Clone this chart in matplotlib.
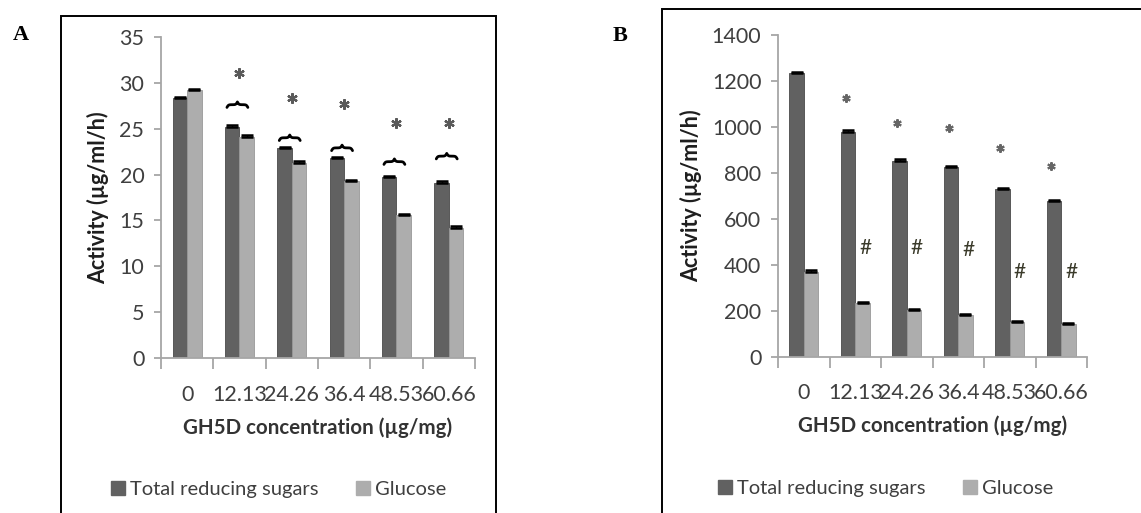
"""
Two-panel grouped bar chart: GH5D effect on total reducing sugars and glucose.
"""
import numpy as np
import matplotlib.pyplot as plt
from matplotlib.patches import Rectangle
from matplotlib.lines import Line2D

plt.rcParams['font.family'] = ['Lato', 'DejaVu Sans']

conc_labels = ["0", "12.13", "24.26", "36.4", "48.53", "60.66"]

# panel A
trs_a = [28.3, 25.2, 22.9, 21.8, 19.7, 19.1]
glc_a = [29.2, 24.1, 21.3, 19.3, 15.6, 14.2]
err_a = [0.15, 0.15, 0.15, 0.15, 0.15, 0.15]
star_a = [None, 31.1, 28.3, 27.7, 25.6, 25.6]
brace_a = [None, 27.6, 24.0, 22.9, 21.4, 22.0]

# panel B
trs_b = [1233, 979, 853, 824, 730, 676]
glc_b = [370, 232, 203, 180, 149, 142]
err_b = [6, 6, 6, 6, 6, 6]
star_b = [None, 1124, 1016, 994, 910, 831]
hash_b = [None, 471, 471, 464, 370, 370]

DARK = "#616161"
LIGHT = "#adadad"
TXT = "#3f3f3f"
AXC = "#a6a6a6"
W = 0.28

fig = plt.figure(figsize=(11.41, 5.13), dpi=100)

# outer frames of the two panels
fig.patches.append(Rectangle((0.0535, -0.1), 0.3812, 1.0688, transform=fig.transFigure,
                             fill=False, edgecolor="black", linewidth=1.4, clip_on=False))
fig.patches.append(Rectangle((0.5802, -0.1), 0.6, 1.0825, transform=fig.transFigure,
                             fill=False, edgecolor="black", linewidth=1.4, clip_on=False))


def style_axes(ax, ymax, ystep):
    x = np.arange(len(conc_labels))
    ax.set_xlim(-0.5, len(conc_labels) - 0.5)
    ax.set_ylim(0, ymax)
    ax.set_yticks(np.arange(0, ymax + 1e-9, ystep))
    ax.set_xticks(x)
    ax.set_xticklabels(conc_labels)
    ax.set_xticks(np.arange(-0.5, len(conc_labels)), minor=True)
    for s in ("top", "right"):
        ax.spines[s].set_visible(False)
    for s in ("left", "bottom"):
        ax.spines[s].set_color(AXC)
        ax.spines[s].set_linewidth(1.3)
    ax.tick_params(axis="x", which="major", length=0, pad=19, labelsize=15.5, labelcolor=TXT)
    ax.tick_params(axis="x", which="minor", length=8, width=1.3, color=AXC)
    ax.tick_params(axis="y", length=5, width=1.3, color=AXC, labelsize=15.5, labelcolor=TXT, pad=7)
    ax.set_ylabel("Activity (µg/ml/h)", fontsize=15.5, fontweight="bold", color="#1e1e1e", labelpad=7)
    ax.set_xlabel("GH5D concentration (µg/mg)", fontsize=14.8, fontweight="bold", color="#333333",
                  labelpad=9)


def draw_bars(ax, trs, glc, err, cap):
    x = np.arange(len(trs))
    up = [np.zeros(len(err)), err]
    ax.bar(x - W / 2, trs, W, color=DARK, edgecolor="#4a4a4a", linewidth=0.6)
    ax.bar(x + W / 2, glc, W, color=LIGHT, edgecolor="#999999", linewidth=0.6)
    ax.errorbar(x - W / 2, trs, yerr=up, fmt="none", ecolor="black", elinewidth=1,
                capsize=cap, capthick=1.8)
    ax.errorbar(x + W / 2, glc, yerr=up, fmt="none", ecolor="black", elinewidth=1,
                capsize=cap, capthick=1.8)


def brace(ax, xc, y, half_w, height):
    # horizontal curly brace, tip pointing up
    u = np.linspace(0, 1, 60)
    b = 14.0
    half = 1 / (1 + np.exp(-b * u)) + 1 / (1 + np.exp(-b * (u - 1))) - 0.5
    xs = np.concatenate([xc - half_w + u * half_w, xc + u[1:] * half_w])
    ys = np.concatenate([half, half[-2::-1]])
    ax.plot(xs, y - height / 2 + ys * height, color="black", lw=2.0, solid_capstyle="round")


# ---- panel A
axA = fig.add_axes([0.1411, 0.3015, 0.2752, 0.627])
draw_bars(axA, trs_a, glc_a, err_a, 4.5)
style_axes(axA, 35, 5)
for i, (s, b) in enumerate(zip(star_a, brace_a)):
    if s is not None:
        axA.plot(i, s, marker=(6, 2, 0), markersize=7.5, mew=1.6, color="#5a5a5a")
    if b is not None:
        brace(axA, i - 0.04, b, 0.2, 0.6)

# ---- panel B
axB = fig.add_axes([0.6819, 0.3047, 0.2708, 0.627])
draw_bars(axB, trs_b, glc_b, err_b, 4.5)
style_axes(axB, 1400, 200)
for i, (s, h) in enumerate(zip(star_b, hash_b)):
    if s is not None:
        axB.plot(i - W / 2 - 0.05, s, marker=(6, 2, 0), markersize=6, mew=1.5, color="#666666")
    if h is not None:
        axB.text(i + W / 2 + 0.05, h, "#", ha="center", va="center", fontsize=15, color="#3a3a2a")

# panel letters
fig.text(0.011, 0.932, "A", fontsize=16, fontweight="bold", family="Liberation Serif", va="center")
fig.text(0.537, 0.930, "B", fontsize=16, fontweight="bold", family="Liberation Serif", va="center")

# legends
handles = [Line2D([], [], marker="s", linestyle="none", markersize=10, color=DARK),
           Line2D([], [], marker="s", linestyle="none", markersize=10, color=LIGHT)]
names = ["Total reducing sugars", "Glucose"]
for cx, cy in ((0.2445, 0.045), (0.7767, 0.0487)):
    fig.legend(handles, names, loc="center", bbox_to_anchor=(cx, cy), ncol=2, frameon=False,
               fontsize=14.5, handlelength=0.6, handletextpad=0.3, columnspacing=1.9,
               labelcolor=TXT)

fig.savefig("out.png", dpi=100)
